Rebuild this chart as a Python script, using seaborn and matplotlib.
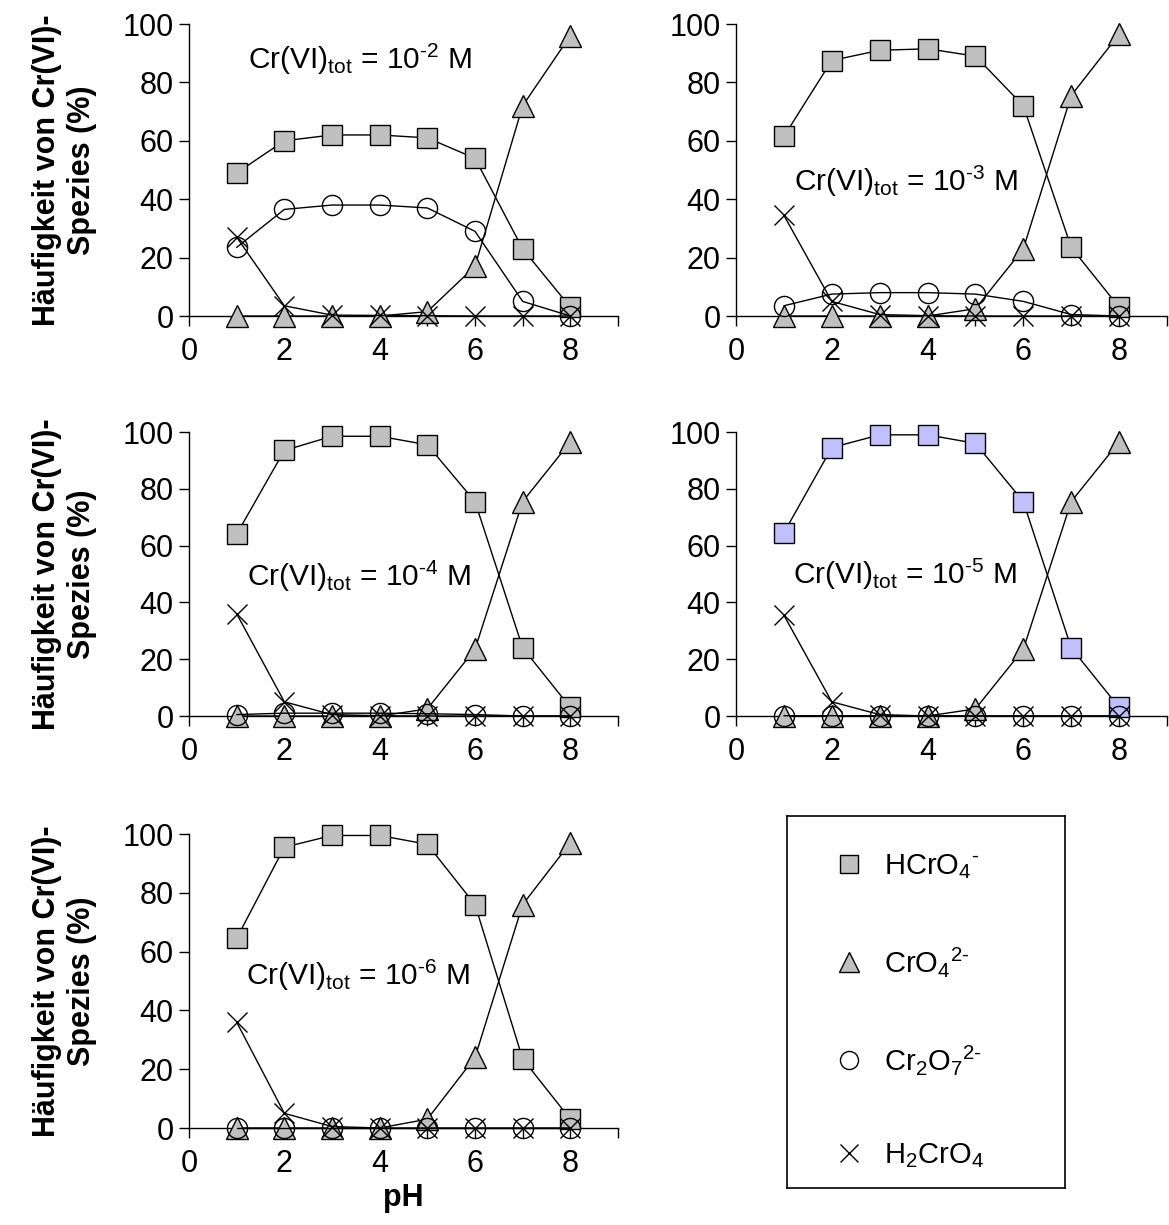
import numpy as np
import pandas as pd
import seaborn as sns
import matplotlib.pyplot as plt
from matplotlib.lines import Line2D

# pH values shared by all panels
ph = [1, 2, 3, 4, 5, 6, 7, 8]

# species percentages per total concentration
hcro4_e2 = [49, 60, 62, 62, 61, 54, 23, 3]
cro4_e2 = [0, 0, 0, 0, 1.5, 17, 72, 96]
cr2o7_e2 = [23.5, 36.5, 38, 38, 37, 29, 5, 0]
h2cro4_e2 = [27, 3.5, 0.3, 0.2, 0.1, 0, 0, 0]

hcro4_e3 = [61.5, 87.5, 91, 91.5, 89, 72, 23.5, 3]
cro4_e3 = [0, 0, 0, 0, 2.5, 23, 75.5, 96.5]
cr2o7_e3 = [3.5, 7.5, 8, 8, 7.5, 5, 0.5, 0]
h2cro4_e3 = [34.5, 5, 0.5, 0.1, 0, 0, 0, 0]

hcro4_e4 = [64, 93.5, 98.5, 98.5, 95.5, 75.5, 24, 3]
cro4_e4 = [0, 0, 0, 0, 2.5, 23.5, 75.5, 96.5]
cr2o7_e4 = [0.5, 1, 1, 1, 0.8, 0.5, 0, 0]
h2cro4_e4 = [36, 5, 0.5, 0.1, 0, 0, 0, 0]

hcro4_e5 = [64.5, 94.5, 99, 99, 96, 75.5, 24, 3]
cro4_e5 = [0, 0, 0, 0, 2.5, 23.5, 75.5, 96.5]
cr2o7_e5 = [0.1, 0.1, 0.1, 0.1, 0, 0, 0, 0]
h2cro4_e5 = [35.5, 5, 0.5, 0, 0, 0, 0, 0]

hcro4_e6 = [64.5, 95.5, 99.5, 99.5, 96.5, 76, 23.5, 3]
cro4_e6 = [0, 0, 0, 0, 3, 24, 76, 97]
cr2o7_e6 = [0, 0, 0, 0, 0, 0, 0, 0]
h2cro4_e6 = [36, 5, 0.5, 0, 0, 0, 0, 0]

exponents = ["\u20102", "\u20103", "\u20104", "\u20105", "\u20106"]
label_pos = [(1.24, 88), (1.22, 46), (1.22, 49), (1.18, 50), (1.19, 52)]

species = ["HCrO$_\\mathregular{4}{}^\\mathregular{\u2010}$",
           "CrO$_\\mathregular{4}{}^\\mathregular{2\u2010}$",
           "Cr$_\\mathregular{2}$O$_\\mathregular{7}{}^\\mathregular{2\u2010}$",
           "H$_\\mathregular{2}$CrO$_\\mathregular{4}$"]

sns.set_theme(style="ticks")
plt.rcParams['font.family'] = ['Liberation Sans', 'DejaVu Sans']
plt.rcParams['mathtext.fontset'] = 'custom'
plt.rcParams['mathtext.rm'] = 'Liberation Sans'
plt.rcParams['mathtext.it'] = 'Liberation Sans:italic'
plt.rcParams['mathtext.bf'] = 'Liberation Sans:bold'
plt.rcParams['text.color'] = 'black'
plt.rcParams['axes.labelcolor'] = 'black'

W, H = 1169, 1225
fig = plt.figure(figsize=(W / 100, H / 100), dpi=100)
fig.patch.set_facecolor('white')

def box(x0, y0, x1, y1):
    return [x0 / W, 1 - y1 / H, (x1 - x0) / W, (y1 - y0) / H]

panels = [
    (box(189, 24, 618, 316), [hcro4_e2, cro4_e2, cr2o7_e2, h2cro4_e2], '#c0c0c0', True, False),
    (box(736, 24, 1167, 316), [hcro4_e3, cro4_e3, cr2o7_e3, h2cro4_e3], '#c0c0c0', False, False),
    (box(189, 432, 618, 716), [hcro4_e4, cro4_e4, cr2o7_e4, h2cro4_e4], '#c0c0c0', True, False),
    (box(736, 432, 1167, 716), [hcro4_e5, cro4_e5, cr2o7_e5, h2cro4_e5], '#c0c0ff', False, False),
    (box(189, 834, 618, 1128), [hcro4_e6, cro4_e6, cr2o7_e6, h2cro4_e6], '#c0c0c0', True, True),
]

gray = '#c0c0c0'
styles = [('s', 14.5), ('^', 15.5), ('o', 14.5), ('x', 14)]

for i, (pos, series, sq_color, ylab, xlab) in enumerate(panels):
    ax = fig.add_axes(pos)
    for j, vals in enumerate(series):
        mk, ms = styles[j]
        fc = sq_color if j == 0 else (gray if j == 1 else 'none')
        df = pd.DataFrame({'pH': ph, 'pct': vals})
        sns.lineplot(data=df, x='pH', y='pct', ax=ax, color='black', linewidth=1.0,
                     marker=mk, markersize=ms, markerfacecolor=fc,
                     markeredgecolor='black', markeredgewidth=1.0,
                     errorbar=None, clip_on=False, zorder=3 + j)
    ax.set_xlim(0, 9)
    ax.set_ylim(0, 100)
    ax.set_xticks(range(0, 10))
    ax.set_xticklabels([str(v) if v % 2 == 0 and v < 9 else '' for v in range(10)])
    ax.set_yticks(range(0, 101, 20))
    ax.tick_params(axis='both', direction='out', length=7, width=1, color='black',
                   labelsize=22, labelcolor='black')
    ax.tick_params(axis='x', pad=8)
    ax.tick_params(axis='y', pad=4)
    for s in ['top', 'right']:
        ax.spines[s].set_visible(False)
    for s in ['left', 'bottom']:
        ax.spines[s].set_color('black')
        ax.spines[s].set_linewidth(1.0)
    ax.set_facecolor('white')
    ax.set_xlabel('')
    ax.set_ylabel('')
    if ylab:
        ax.set_ylabel("Häufigkeit von Cr(VI)-\nSpezies (%)", fontsize=22,
                      fontweight='bold', color='black', linespacing=1.2)
        ax.yaxis.set_label_coords(-0.215, 0.5)
    if xlab:
        ax.set_xlabel('pH', fontsize=22, fontweight='bold', color='black', labelpad=3)
    tx, ty = label_pos[i]
    ax.text(tx, ty, "Cr(VI)$_\\mathregular{tot}$ = 10$^\\mathregular{" + exponents[i] + "}$ M",
            fontsize=21.5, color='black', va='center', ha='left')

# legend box
lax = fig.add_axes(box(787, 816, 1065, 1188))
lax.set_xticks([])
lax.set_yticks([])
for s in lax.spines.values():
    s.set_visible(True)
    s.set_color('black')
    s.set_linewidth(1.2)
handles = [
    Line2D([], [], linestyle='none', marker='s', markersize=13, markerfacecolor=gray,
           markeredgecolor='black', markeredgewidth=1.0),
    Line2D([], [], linestyle='none', marker='^', markersize=14, markerfacecolor=gray,
           markeredgecolor='black', markeredgewidth=1.0),
    Line2D([], [], linestyle='none', marker='o', markersize=13, markerfacecolor='none',
           markeredgecolor='black', markeredgewidth=1.0),
    Line2D([], [], linestyle='none', marker='x', markersize=13, markeredgecolor='black',
           markeredgewidth=1.0),
]
lax.legend(handles, species, loc='center left', bbox_to_anchor=(0.17, 0.475),
           frameon=False, fontsize=21, labelspacing=2.2, handlelength=1.0,
           handletextpad=0.7, borderpad=0, borderaxespad=0, labelcolor='black')

fig.savefig('out.png', dpi=100, facecolor='white')
